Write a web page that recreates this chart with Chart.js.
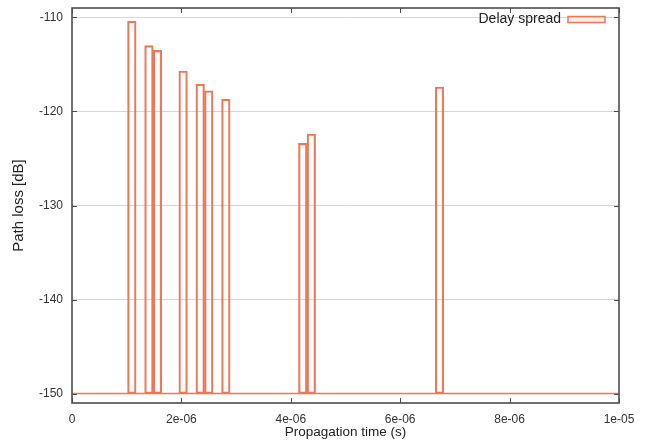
<!DOCTYPE html>
<html><head><meta charset="utf-8">
<script src="https://cdn.jsdelivr.net/npm/chart.js@4.4.0/dist/chart.umd.min.js"></script>
<style>html,body{margin:0;padding:0;background:#fff;}</style>
</head><body>
<canvas id="c" width="650" height="444"></canvas>
<script>
// ---- data ----
const DELAYS = [1.09375e-6, 1.40625e-6, 1.5625e-6, 2.03125e-6, 2.34375e-6, 2.5e-6, 2.8125e-6, 4.21875e-6, 4.375e-6, 6.71875e-6];
const PATH_LOSS = [-110.4, -113.0, -113.5, -115.7, -117.1, -117.8, -118.7, -123.4, -122.4, -117.4];
const FLOOR = -150;
const TIME_RANGE = [0, 1e-5];
const X_TICKS = [0, 2e-6, 4e-6, 6e-6, 8e-6, 1e-5];
const X_TICK_LABELS = ['0', '2e-06', '4e-06', '6e-06', '8e-06', '1e-05'];
const Y_TICKS = [-150, -140, -130, -120, -110];
const Y_RANGE = [-151, -109];
const SERIES_NAME = 'Delay spread';

const ORANGE = '#ef7756';
const FONT = "'Liberation Sans', Arial, Helvetica, sans-serif";

const barData = DELAYS.map((t, i) => ({x: t, y: [FLOOR, PATH_LOSS[i]]}));
const floorData = TIME_RANGE.map(t => ({x: t, y: FLOOR}));

const framePlugin = {
  id: 'frame',
  afterDatasetsDraw(chart) {
    const {ctx, chartArea: a, scales: {x, y}} = chart;
    ctx.save();
    ctx.strokeStyle = '#4d4d4d';
    ctx.lineWidth = 1;
    const L = 5;
    ctx.beginPath();
    x.ticks.forEach(t => {
      const px = Math.round(x.getPixelForValue(t.value)) + 0.5;
      ctx.moveTo(px, a.bottom); ctx.lineTo(px, a.bottom - L);
      ctx.moveTo(px, a.top); ctx.lineTo(px, a.top + L);
    });
    y.ticks.forEach(t => {
      const py = Math.round(y.getPixelForValue(t.value)) + 0.5;
      ctx.moveTo(a.left, py); ctx.lineTo(a.left + L, py);
      ctx.moveTo(a.right, py); ctx.lineTo(a.right - L, py);
    });
    ctx.stroke();
    ctx.lineWidth = 1.6;
    ctx.strokeRect(a.left, a.top, a.right - a.left, a.bottom - a.top);

    // key (legend) in the top-right corner of the plot, gnuplot style
    const ds = chart.data.datasets[0];
    const boxW = 37, boxH = 6;
    const bx = a.right - 14 - boxW;
    const cy = a.top + 11.5;
    ctx.fillStyle = 'rgba(250,225,215,0.6)';
    ctx.fillRect(bx, cy - boxH / 2, boxW, boxH);
    ctx.strokeStyle = ds.borderColor;
    ctx.lineWidth = 1.5;
    ctx.strokeRect(bx, cy - boxH / 2, boxW, boxH);
    ctx.fillStyle = '#222';
    ctx.font = '14px ' + FONT;
    ctx.textAlign = 'right';
    ctx.textBaseline = 'middle';
    ctx.fillText(ds.label, bx - 7, cy);
    ctx.restore();
  }
};

new Chart(document.getElementById('c'), {
  type: 'bar',
  data: {
    datasets: [
      {
        type: 'bar',
        label: SERIES_NAME,
        data: barData,
        borderColor: ORANGE,
        backgroundColor: 'rgba(255,255,255,0)',
        borderWidth: 1.5,
        borderSkipped: false,
        barPercentage: 1,
        categoryPercentage: 1,
        order: 1
      },
      {
        type: 'line',
        label: 'floor',
        data: floorData,
        borderColor: ORANGE,
        borderWidth: 1.5,
        pointRadius: 0,
        fill: false,
        order: 0
      }
    ]
  },
  options: {
    responsive: false,
    devicePixelRatio: 1,
    animation: false,
    layout: {padding: {top: 8, right: 31, left: 0, bottom: 0}},
    plugins: {
      tooltip: {enabled: false},
      legend: {display: false}
    },
    scales: {
      x: {
        type: 'linear',
        min: TIME_RANGE[0],
        max: TIME_RANGE[1],
        offset: false,
        afterBuildTicks: s => { s.ticks = X_TICKS.map(v => ({value: v})); },
        afterFit: s => { s.height = 41; s.paddingLeft = 0; s.paddingRight = 0; },
        grid: {display: false, drawTicks: false, offset: false},
        border: {display: false},
        ticks: {
          padding: 9,
          color: '#333',
          font: {family: FONT, size: 12},
          maxRotation: 0,
          callback: (v, i) => X_TICK_LABELS[i]
        },
        title: {
          display: true,
          text: 'Propagation time (s)',
          color: '#222',
          font: {family: FONT, size: 13.5},
          padding: {top: 0, bottom: 4}
        }
      },
      y: {
        type: 'linear',
        min: Y_RANGE[0],
        max: Y_RANGE[1],
        afterBuildTicks: s => { s.ticks = Y_TICKS.map(v => ({value: v})); },
        afterFit: s => { s.width = 72; s.paddingTop = 0; s.paddingBottom = 0; },
        grid: {color: '#d6d6d6', lineWidth: 1, drawTicks: false},
        border: {display: false},
        ticks: {
          padding: 9,
          color: '#333',
          font: {family: FONT, size: 12},
          callback: v => String(v)
        },
        title: {
          display: true,
          text: 'Path loss [dB]',
          color: '#222',
          font: {family: FONT, size: 15},
          padding: {top: 10, bottom: 0}
        }
      }
    }
  },
  plugins: [framePlugin]
});
</script>
</body></html>
